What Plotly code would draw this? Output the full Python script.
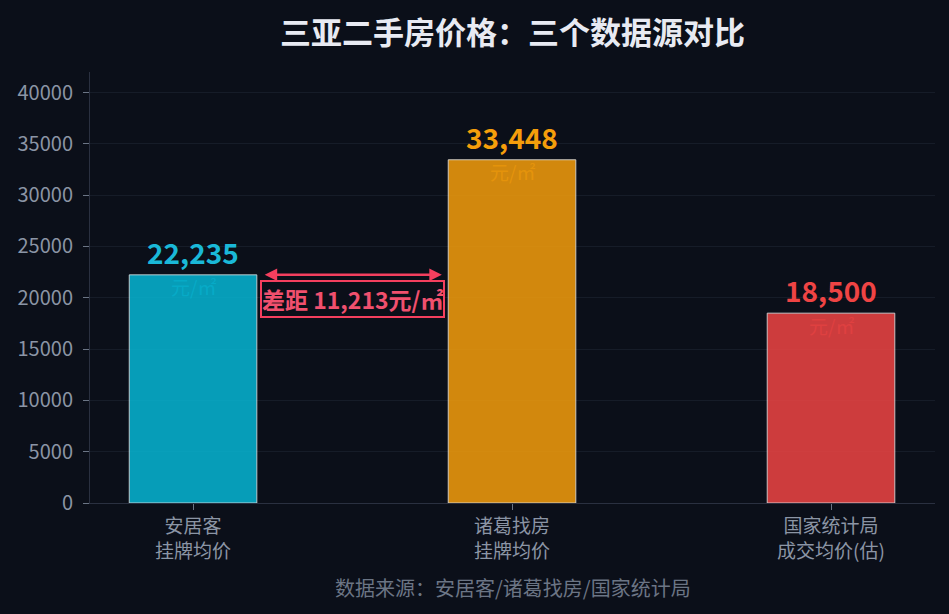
import plotly.graph_objects as go

# 数据
categories = ['安居客<br>挂牌均价', '诸葛找房<br>挂牌均价', '国家统计局<br>成交均价(估)']
prices = [22235, 33448, 18500]
bar_colors = ['#06b6d4', '#f59e0b', '#ef4444']
label_colors = ['#1ab8d8', '#f59e0b', '#ef4444']
unit_colors = ['rgba(6,182,212,0.55)', 'rgba(245,158,11,0.55)', 'rgba(239,68,68,0.55)']
ytick_vals = [0, 5000, 10000, 15000, 20000, 25000, 30000, 35000, 40000]

gap = prices[1] - prices[0]
font_family = 'Noto Sans CJK SC, Microsoft YaHei, sans-serif'

fig = go.Figure()
fig.add_trace(go.Bar(
    x=list(range(len(categories))),
    y=prices,
    width=0.4,
    marker=dict(color=bar_colors, opacity=0.85,
                line=dict(color='rgba(255,255,255,0.85)', width=1)),
    hoverinfo='skip',
))

# 数值标签 + 单位
for i, v in enumerate(prices):
    fig.add_annotation(
        x=i, y=v, xref='x', yref='y',
        text=f'<b>{v:,}</b>', showarrow=False, yanchor='bottom', yshift=1,
        font=dict(size=28, color=label_colors[i], family=font_family),
    )
    fig.add_annotation(
        x=i, y=v, xref='x', yref='y',
        text='元/㎡', showarrow=False, yanchor='middle', yshift=-12,
        font=dict(size=19, color=unit_colors[i], family=font_family),
    )

# 差距箭头
fig.add_annotation(
    x=0.78, y=prices[0], ax=0.22, ay=prices[0],
    xref='x', yref='y', axref='x', ayref='y',
    text='', showarrow=True, arrowhead=2, arrowside='end+start',
    arrowsize=1, arrowwidth=2.5, arrowcolor='#f43f5e',
)
fig.add_annotation(
    x=0.5, y=19900, xref='x', yref='y',
    text=f'<b>差距 {gap:,}元/㎡</b>', showarrow=False,
    font=dict(size=23, color='#f0506e', family=font_family),
    bgcolor='#0b0f19', bordercolor='#f43f5e', borderwidth=2, borderpad=0,
)

# 数据来源
fig.add_annotation(
    x=0.5, y=-0.195, xref='paper', yref='paper', yanchor='middle',
    text='数据来源：安居客/诸葛找房/国家统计局', showarrow=False,
    font=dict(size=20, color='#6b7585', family=font_family),
)

fig.update_layout(
    width=949, height=614,
    title=dict(text='<b>三亚二手房价格：三个数据源对比</b>', x=0.5, xref='paper',
               xanchor='center', y=0.946, yanchor='middle',
               font=dict(size=31, color='#e8eaf2', family=font_family)),
    paper_bgcolor='#0b0f19', plot_bgcolor='#0b0f19',
    margin=dict(l=90, r=14, t=72, b=111),
    showlegend=False,
    font=dict(family=font_family, color='#8b95a5'),
    xaxis=dict(
        tickmode='array', tickvals=list(range(len(categories))), ticktext=categories,
        range=[-0.323, 2.326],
        showgrid=False, zeroline=False,
        showline=True, linecolor='#2a3040', linewidth=1,
        ticks='outside', ticklen=6, tickcolor='#6b7585',
        tickfont=dict(size=19, color='#8b95a5'),
    ),
    yaxis=dict(
        range=[0, 42000], tickvals=ytick_vals, tickformat='d',
        showgrid=True, gridcolor='#161c28', gridwidth=1, zeroline=False,
        showline=True, linecolor='#2a3040', linewidth=1,
        ticks='outside', ticklen=6, tickcolor='#6b7585',
        tickfont=dict(size=20, color='#8b95a5'), ticklabelstandoff=6,
    ),
)

fig.write_html('out.html', config={'displayModeBar': False},
               post_script="document.body.style.margin='0';"
                           "document.body.style.background='#0b0f19';")
